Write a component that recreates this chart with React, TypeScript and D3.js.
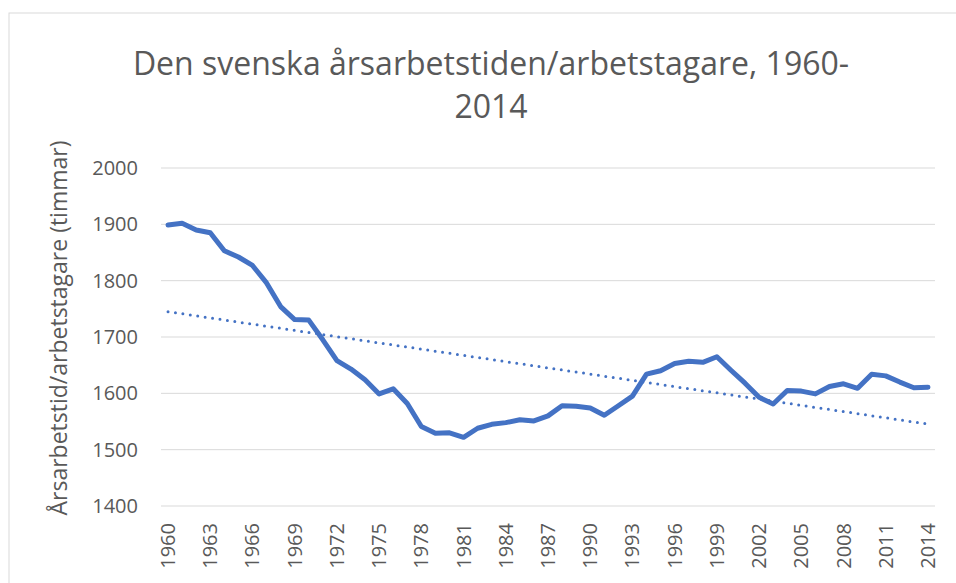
import * as d3 from 'd3';

const years: number[] = d3.range(1960, 2015);

// hours per worker
const hours: number[] = [
  1899, 1902, 1890, 1885, 1853, 1842, 1827, 1796, 1754, 1731,
  1730, 1695, 1658, 1643, 1624, 1599, 1608, 1582, 1541, 1529,
  1530, 1522, 1538, 1545, 1548, 1553, 1551, 1560, 1578, 1577,
  1574, 1561, 1578, 1595, 1634, 1640, 1653, 1657, 1655, 1665,
  1641, 1618, 1593, 1581, 1605, 1604, 1599, 1612, 1617, 1609,
  1634, 1631, 1620, 1610, 1611,
];

const yTicks: number[] = [1400, 1500, 1600, 1700, 1800, 1900, 2000];
const xTickYears: number[] = d3.range(1960, 2015, 3);

const titleLines: string[] = ['Den svenska årsarbetstiden/arbetstagare, 1960-', '2014'];
const yAxisTitle = 'Årsarbetstid/arbetstagare (timmar)';

const W = 956;
const H = 583;
const plot = { left: 161, right: 935, top: 168, bottom: 506 };
const FONT = '"Open Sans", "Noto Sans", sans-serif';
const BLUE = '#4472C4';
const TEXT = '#595959';

export default function App() {
  const x = d3
    .scaleBand<number>()
    .domain(years)
    .range([plot.left, plot.right]);
  const cx = (yr: number) => (x(yr) ?? 0) + x.bandwidth() / 2;

  const y = d3.scaleLinear().domain([1400, 2000]).range([plot.bottom, plot.top]);

  const pts = years.map((yr, i) => [yr, hours[i]] as [number, number]);
  const line = d3
    .line<[number, number]>()
    .x(d => cx(d[0]))
    .y(d => y(d[1]));

  // linear trendline (least squares), like Excel's
  const n = years.length;
  const mx = d3.mean(years) as number;
  const my = d3.mean(hours) as number;
  let sxy = 0;
  let sxx = 0;
  years.forEach((yr, i) => {
    sxy += (yr - mx) * (hours[i] - my);
    sxx += (yr - mx) * (yr - mx);
  });
  const slope = sxy / sxx;
  const trend = (yr: number) => my + slope * (yr - mx);
  const trendPts: [number, number][] = [
    [years[0], trend(years[0])],
    [years[n - 1], trend(years[n - 1])],
  ];

  return (
    <svg
      width={W}
      height={H}
      style={{ position: 'absolute', left: 0, top: 0, background: '#fff' }}
      fontFamily={FONT}
    >
      <rect x={9} y={13} width={W} height={H} fill="#fff" stroke="#d9d9d9" strokeWidth={1} />

      {titleLines.map((t, i) => (
        <text
          key={t}
          x={491}
          y={75 + i * 43}
          textAnchor="middle"
          fontSize={32}
          fill={TEXT}
        >
          {t}
        </text>
      ))}

      {yTicks.map(v => (
        <g key={v}>
          <line x1={plot.left} x2={plot.right} y1={y(v)} y2={y(v)} stroke="#d9d9d9" strokeWidth={1} />
          <text x={138} y={y(v)} dy="0.35em" textAnchor="end" fontSize={20} fill={TEXT}>
            {v}
          </text>
        </g>
      ))}

      {xTickYears.map(yr => (
        <text
          key={yr}
          transform={`translate(${cx(yr) + 7},${523}) rotate(-90)`}
          textAnchor="end"
          fontSize={20}
          fill={TEXT}
        >
          {yr}
        </text>
      ))}

      <text
        transform={`translate(${67},${328}) rotate(-90)`}
        textAnchor="middle"
        fontSize={23}
        fill={TEXT}
      >
        {yAxisTitle}
      </text>

      <path
        d={line(trendPts) ?? ''}
        fill="none"
        stroke={BLUE}
        strokeWidth={3}
        strokeLinecap="round"
        strokeDasharray="0 7.5"
      />

      <path
        d={line(pts) ?? ''}
        fill="none"
        stroke={BLUE}
        strokeWidth={5}
        strokeLinejoin="round"
        strokeLinecap="round"
      />
    </svg>
  );
}
